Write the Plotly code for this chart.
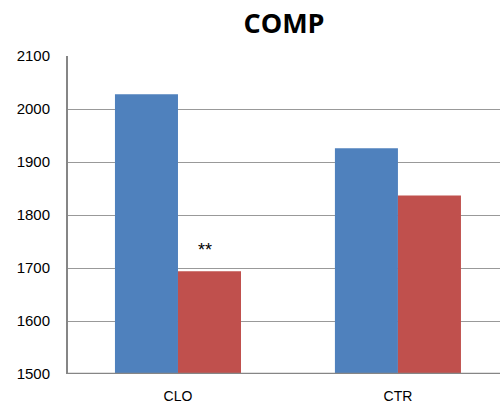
import plotly.graph_objects as go

categories = ["CLO", "CTR"]
series_a = [2028, 1926]
series_b = [1694, 1837]
annotation_text = "**"

fig = go.Figure()
fig.add_trace(go.Bar(x=categories, y=series_a, marker=dict(color="#4F81BD", line=dict(width=0)), showlegend=False))
fig.add_trace(go.Bar(x=categories, y=series_b, marker=dict(color="#C0504D", line=dict(width=0)), showlegend=False))

fig.add_annotation(x=0, y=series_b[0], xshift=27, yshift=9, text=annotation_text, showarrow=False,
                   xref="x", yref="y", yanchor="bottom",
                   font=dict(family="Liberation Sans", size=18, color="#000000"))

fig.update_layout(
    template="none",
    width=500, height=405,
    margin=dict(l=68, r=0, t=56, b=31, autoexpand=False),
    paper_bgcolor="white", plot_bgcolor="white",
    barmode="group", bargap=0.427, bargroupgap=0,
    title=dict(text="<b>COMP</b>", x=0.568, xanchor="center", y=0.943, yanchor="middle",
               font=dict(family="Open Sans", size=27, color="#000000")),
    xaxis=dict(range=[-0.5, 1.464], showgrid=False, showline=False, zeroline=False, automargin=False,
               tickfont=dict(family="Liberation Sans", size=14, color="#000000"),
               ticks="outside", ticklen=9, tickcolor="rgba(0,0,0,0)"),
    yaxis=dict(range=[1500, 2100], dtick=100, tick0=1500, showgrid=True, gridcolor="#999999", gridwidth=1,
               showline=True, linecolor="#868686", linewidth=2, zeroline=False, automargin=False,
               ticks="outside", ticklen=13, tickcolor="rgba(0,0,0,0)",
               tickfont=dict(family="Liberation Sans", size=15, color="#000000")),
)
fig.add_shape(type="line", xref="paper", yref="y", x0=0, x1=1, y0=1500, y1=1500,
              line=dict(color="#868686", width=2.5))
fig.write_html("out.html", config={"displayModeBar": False},
               post_script="document.body.style.margin='0';document.body.style.overflow='hidden';")
